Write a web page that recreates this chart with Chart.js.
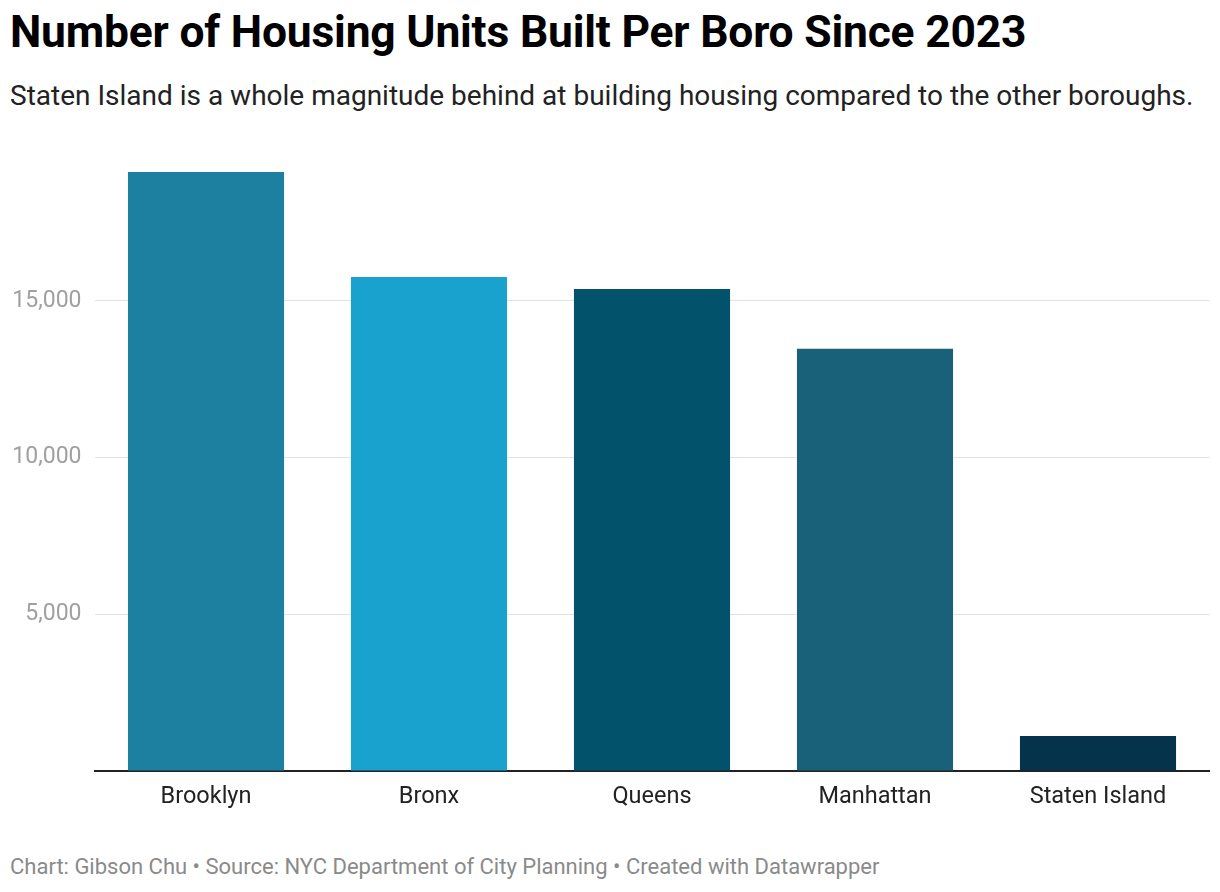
<!DOCTYPE html>
<html>
<head>
<meta charset="utf-8">
<script src="https://cdn.jsdelivr.net/npm/chart.js@4"></script>
<style>
  html, body { margin: 0; padding: 0; background: #fff; }
  body { width: 1220px; height: 892px; position: relative; overflow: hidden; font-family: Roboto, "Noto Sans", sans-serif; }
  #title { position: absolute; left: 10px; top: 6px; font-size: 44.4px; font-weight: 700; color: #000; white-space: nowrap; letter-spacing: -0.2px; }
  #subtitle { position: absolute; left: 10px; top: 79px; font-size: 28px; color: #222; white-space: nowrap; }
  #footer { position: absolute; left: 10px; top: 854px; font-size: 22px; color: #8a8a8a; white-space: nowrap; }
  #wrap { position: absolute; left: 0; top: 133px; width: 1220px; height: 697px; }
</style>
</head>
<body>
<div id="title">Number of Housing Units Built Per Boro Since 2023</div>
<div id="subtitle">Staten Island is a whole magnitude behind at building housing compared to the other boroughs.</div>
<div id="wrap"><canvas id="chart"></canvas></div>
<div id="footer">Chart: Gibson Chu • Source: NYC Department of City Planning • Created with Datawrapper</div>

<script>
// ---- data ----
const boroughs = ["Brooklyn", "Bronx", "Queens", "Manhattan", "Staten Island"];
const unitsBuilt = [19110, 15760, 15380, 13470, 1120];
const barColors = ["#1e80a1", "#1aa2cf", "#03526c", "#186179", "#04334b"];
const yTicks = [0, 5000, 10000, 15000];

new Chart(document.getElementById("chart"), {
  type: "bar",
  data: {
    labels: boroughs,
    datasets: [{
      data: unitsBuilt,
      backgroundColor: barColors,
      borderWidth: 0,
      categoryPercentage: 1,
      barPercentage: 0.7
    }]
  },
  options: {
    responsive: true,
    maintainAspectRatio: false,
    animation: false,
    layout: { padding: { top: 15, right: 10.5, left: 0, bottom: 0 } },
    plugins: { legend: { display: false }, tooltip: { enabled: false } },
    scales: {
      x: {
        grid: { display: false, drawTicks: false },
        border: { display: true, color: "#222", width: 2 },
        ticks: { color: "#222", font: { family: "Roboto", size: 23.5 }, padding: 12 },
        afterFit: (s) => { s.height = 59; }
      },
      y: {
        min: 0,
        max: 19500,
        afterBuildTicks: (s) => { s.ticks = yTicks.map(v => ({ value: v })); },
        grid: {
          drawTicks: false,
          color: (c) => c.tick && c.tick.value === 0 ? "rgba(0,0,0,0)" : "#e2e2e2",
          lineWidth: 1
        },
        border: { display: false },
        ticks: {
          color: "#a0a0a0",
          font: { family: "Roboto", size: 23 },
          padding: 13,
          callback: (v) => v === 0 ? "" : v.toLocaleString("en-US")
        },
        afterFit: (s) => { s.width = 94.5; }
      }
    }
  }
});
</script>
</body>
</html>
